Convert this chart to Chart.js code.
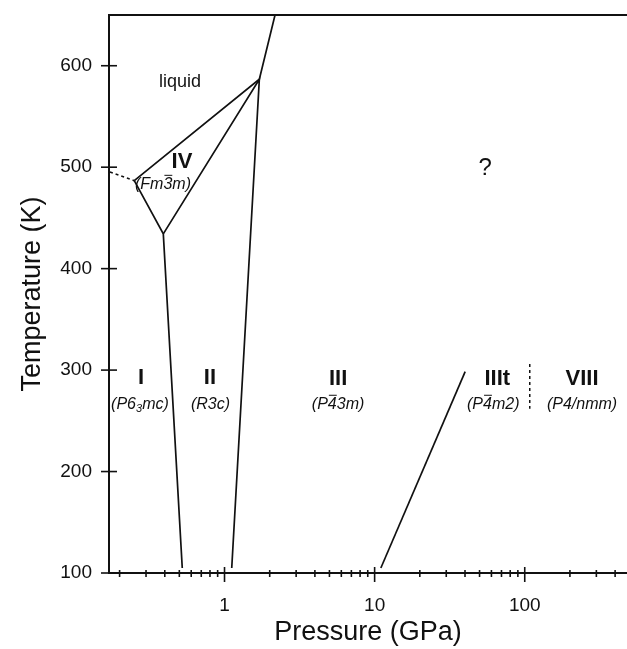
<!DOCTYPE html>
<html>
<head>
<meta charset="utf-8">
<script src="https://cdn.jsdelivr.net/npm/chart.js@4/dist/chart.umd.min.js"></script>
<style>
  html, body { margin: 0; padding: 0; background: #fff; }
  #wrap { width: 627px; height: 649px; }
</style>
</head>
<body>
<div id="wrap"><canvas id="phaseChart"></canvas></div>
<script>
// phase boundaries (pressure in GPa, temperature in K)
const liquidP = [0.2505, 1.706, 2.17];
const liquidT = [486.7, 586.7, 650];
const phaseIP = [0.2505, 0.391, 0.523];
const phaseIT = [486.7, 434.3, 104.9];
const phaseIIP = [0.391, 1.706, 1.117];
const phaseIIT = [434.3, 586.7, 104.9];
const phaseIIIP = [11.0, 40.1];
const phaseIIIT = [104.9, 298.5];
const dashLeftP = [0.1725, 0.2505];
const dashLeftT = [495.3, 486.7];
const dashRightP = [108, 108];
const dashRightT = [306, 262];

// axis ticks
const xTickValues = [0.2, 0.3, 0.4, 0.5, 0.6, 0.7, 0.8, 0.9, 1, 2, 3, 4, 5, 6, 7, 8, 9, 10,
  20, 30, 40, 50, 60, 70, 80, 90, 100, 200, 300, 400];
const xMajor = [1, 10, 100];
const yTickValues = [100, 200, 300, 400, 500, 600];

// phase labels: ^ = overline on next char, _ = subscript on next char
const labelText = ['liquid', 'IV', '(Fm^3m)', 'I', '(P6_3mc)', 'II', '(R3c)', 'III', '(P^43m)',
  'IIIt', '(P^4m2)', 'VIII', '(P4/nmm)', '?'];
const labelP = [0.505, 0.521, 0.389, 0.2775, 0.2733, 0.80, 0.807, 5.71, 5.71, 65.6, 61.7, 241, 241, 54.5];
const labelT = [584, 505.5, 483.3, 292, 266.5, 292, 266.5, 291, 266.5, 291, 266.5, 291, 266.5, 498.5];
const labelKind = ['plain', 'roman', 'group', 'roman', 'group', 'roman', 'group', 'roman', 'group',
  'roman', 'group', 'roman', 'group', 'question'];

const FONT = "'Liberation Sans', Arial, Helvetica, sans-serif";

function pts(px, ty) {
  return px.map((p, i) => ({ x: p, y: ty[i] }));
}

function boundary(px, ty, dashed) {
  return {
    data: pts(px, ty),
    showLine: true,
    borderColor: '#111',
    borderWidth: dashed ? 1.5 : 1.7,
    borderDash: dashed ? [3, 3] : [],
    pointRadius: 0,
    fill: false
  };
}

function drawRich(ctx, text, cx, cy, fontSize, style) {
  // parse markup into segments
  const segs = [];
  for (let i = 0; i < text.length; i++) {
    const c = text[i];
    if (c === '^') { segs.push({ t: text[i + 1], over: true }); i++; }
    else if (c === '_') { segs.push({ t: text[i + 1], sub: true }); i++; }
    else segs.push({ t: c });
  }
  const main = style + ' ' + fontSize + 'px ' + FONT;
  const small = style + ' ' + Math.round(fontSize * 0.7) + 'px ' + FONT;
  let total = 0;
  segs.forEach(s => {
    ctx.font = s.sub ? small : main;
    s.w = ctx.measureText(s.t).width;
    total += s.w;
  });
  let x = cx - total / 2;
  ctx.textBaseline = 'middle';
  ctx.textAlign = 'left';
  segs.forEach(s => {
    ctx.font = s.sub ? small : main;
    ctx.fillText(s.t, x, s.sub ? cy + fontSize * 0.3 : cy);
    if (s.over) {
      ctx.beginPath();
      ctx.lineWidth = 1;
      ctx.moveTo(x + 1, cy - fontSize * 0.55);
      ctx.lineTo(x + s.w, cy - fontSize * 0.55);
      ctx.stroke();
    }
    x += s.w;
  });
}

const decorPlugin = {
  id: 'decor',
  afterDraw(chart) {
    const ctx = chart.ctx;
    const xs = chart.scales.x;
    const ys = chart.scales.y;
    const area = chart.chartArea;
    ctx.save();
    ctx.strokeStyle = '#111';
    ctx.fillStyle = '#111';
    // top frame line
    ctx.lineWidth = 2;
    ctx.beginPath();
    ctx.moveTo(area.left, area.top);
    ctx.lineTo(area.right, area.top);
    ctx.stroke();
    // tick marks crossing the axes
    ctx.lineWidth = 1.6;
    xTickValues.forEach(v => {
      const px = xs.getPixelForValue(v);
      const major = xMajor.includes(v);
      ctx.beginPath();
      ctx.moveTo(px, area.bottom - (major ? 6 : 3));
      ctx.lineTo(px, area.bottom + (major ? 9 : 4));
      ctx.stroke();
    });
    yTickValues.forEach(v => {
      const py = ys.getPixelForValue(v);
      ctx.beginPath();
      ctx.moveTo(area.left - 8, py);
      ctx.lineTo(area.left + 8, py);
      ctx.stroke();
    });
    // phase labels
    labelText.forEach((t, i) => {
      const px = xs.getPixelForValue(labelP[i]);
      const py = ys.getPixelForValue(labelT[i]);
      const kind = labelKind[i];
      if (kind === 'roman') drawRich(ctx, t, px, py, 22, 'bold');
      else if (kind === 'group') drawRich(ctx, t, px, py, 16, 'italic');
      else if (kind === 'question') drawRich(ctx, t, px, py, 24, 'normal');
      else drawRich(ctx, t, px, py, 18, 'normal');
    });
    ctx.restore();
  }
};

new Chart(document.getElementById('phaseChart').getContext('2d'), {
  type: 'scatter',
  data: {
    datasets: [
      boundary(liquidP, liquidT, false),
      boundary(phaseIP, phaseIT, false),
      boundary(phaseIIP, phaseIIT, false),
      boundary(phaseIIIP, phaseIIIT, false),
      boundary(dashLeftP, dashLeftT, true),
      boundary(dashRightP, dashRightT, true)
    ]
  },
  options: {
    responsive: true,
    maintainAspectRatio: false,
    animation: false,
    layout: { autoPadding: false, padding: { top: 15, right: 0, left: 0, bottom: 0 } },
    plugins: {
      legend: { display: false },
      tooltip: { enabled: false }
    },
    scales: {
      x: {
        type: 'logarithmic',
        min: 0.17,
        max: 480,
        afterBuildTicks: function(scale) {
          scale.ticks = xTickValues.map(v => ({ value: v, major: xMajor.includes(v) }));
        },
        afterFit: function(scale) {
          scale.height = 76;
          scale.paddingLeft = 0;
          scale.paddingRight = 0;
        },
        grid: { drawOnChartArea: false, drawTicks: false },
        border: { display: true, color: '#111', width: 2 },
        ticks: {
          autoSkip: false,
          maxRotation: 0,
          padding: 21,
          color: '#111',
          font: { family: FONT, size: 19 },
          callback: function(value) {
            return xMajor.includes(value) ? String(value) : '';
          }
        },
        title: {
          display: true,
          text: 'Pressure (GPa)',
          color: '#111',
          font: { family: FONT, size: 27 },
          padding: { top: 0, bottom: 0 }
        }
      },
      y: {
        type: 'linear',
        min: 100,
        max: 650,
        afterBuildTicks: function(scale) {
          scale.ticks = yTickValues.map(v => ({ value: v }));
        },
        afterFit: function(scale) {
          scale.width = 109;
          scale.paddingTop = 0;
          scale.paddingBottom = 0;
        },
        grid: { drawOnChartArea: false, drawTicks: false },
        border: { display: true, color: '#111', width: 2 },
        ticks: {
          padding: 17,
          color: '#111',
          font: { family: FONT, size: 19 }
        },
        title: {
          display: true,
          text: 'Temperature (K)',
          color: '#111',
          font: { family: FONT, size: 27 },
          padding: { top: 16, bottom: 0 }
        }
      }
    }
  },
  plugins: [decorPlugin]
});
</script>
</body>
</html>
